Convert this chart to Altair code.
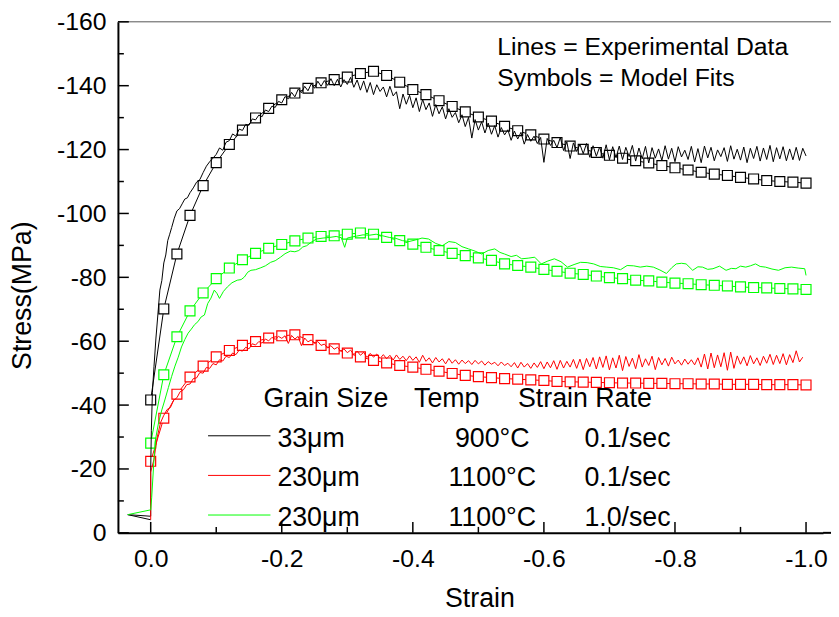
import altair as alt
import pandas as pd

FONT = "Liberation Sans"
WIDTH, HEIGHT = 712, 516

# ---------------- data ----------------
SERIES = ["33um_900C_0.1", "230um_1100C_0.1", "230um_1100C_1.0"]
COLORS = ["#000000", "#ff0000", "#00ff00"]

# Model fits (symbols), strain step 0.02 from 0 to -1.0
MODEL_STEP = -0.02
black_model = [-41.6, -70.1, -87.3, -99.4, -108.7, -115.9, -121.6, -126.1, -129.9, -132.9,
               -135.6, -137.7, -139.2, -140.9, -141.9, -142.7, -143.8, -144.5, -143.2, -141.1,
               -138.8, -137.2, -135.3, -133.5, -131.8, -130.2, -128.9, -127.3, -125.9, -124.6,
               -123.3, -122.2, -121.1, -120.1, -119.1, -118.2, -117.3, -116.5, -115.8, -115.0,
               -114.3, -113.6, -112.9, -112.3, -111.9, -111.3, -110.8, -110.3, -110.0, -109.8,
               -109.5]
red_model = [-22.4, -35.9, -43.4, -48.8, -52.2, -55.1, -57.1, -58.7, -59.9, -61.0,
             -61.7, -62.0, -60.5, -58.7, -57.6, -56.3, -55.1, -54.0, -53.2, -52.4,
             -51.9, -51.2, -50.6, -49.9, -49.3, -48.9, -48.6, -48.3, -48.1, -47.9,
             -47.7, -47.4, -47.3, -47.2, -47.1, -47.0, -46.9, -46.9, -46.8, -46.8,
             -46.7, -46.7, -46.6, -46.6, -46.5, -46.5, -46.5, -46.4, -46.4, -46.4,
             -46.3]
green_model = [-28.1, -49.5, -61.4, -69.5, -75.1, -79.6, -82.9, -85.5, -87.5, -89.1,
               -90.3, -91.4, -92.3, -92.8, -93.0, -93.5, -93.9, -93.5, -92.5, -91.5,
               -90.4, -89.4, -88.4, -87.5, -86.8, -86.1, -85.3, -84.2, -83.7, -83.2,
               -82.5, -81.9, -81.3, -80.9, -80.4, -79.9, -79.6, -79.1, -78.9, -78.5,
               -78.2, -78.0, -77.7, -77.5, -77.3, -77.0, -76.8, -76.7, -76.5, -76.4,
               -76.2]

# Experimental data (lines)
black_head_strain = [0.0, 0.035, 0.0, 0.0, -0.001, -0.0026, -0.005, -0.008, -0.011, -0.014,
                     -0.017, -0.020, -0.023, -0.026, -0.029, -0.032, -0.036, -0.040, -0.044,
                     -0.048, -0.052, -0.056, -0.060, -0.065, -0.070, -0.075, -0.080, -0.085,
                     -0.090, -0.095]
black_head_stress = [-4.1, -5.7, -5.2, -20.0, -32.0, -44.0, -52.0, -61.0, -68.5, -76.0,
                     -79.0, -84.5, -87.0, -91.5, -93.5, -95.6, -98.5, -100.8, -101.5,
                     -103.0, -104.5, -104.9, -106.5, -108.0, -109.8, -110.6, -112.8, -114.8,
                     -116.2, -117.3]
BLACK_GRID_START, BLACK_GRID_STEP = -0.100, -0.005
black_exp = [
    -118.5, -120.5, -119.8, -122.3, -122.8, -124.9, -124.2, -126.4, -126.0, -127.9,
    -127.6, -129.6, -129.3, -130.8, -130.3, -132.4, -131.9, -133.6, -133.2, -135.1,
    -134.6, -136.6, -135.9, -137.9, -136.5, -138.9, -137.8, -139.8, -138.4, -140.6,
    -139.2, -141.4, -139.8, -141.6, -140.1, -142.2, -140.0, -142.0, -139.6, -141.9,
    -140.4, -142.6, -139.5, -141.8, -138.6, -141.5, -137.9, -141.0, -137.2, -140.3,
    -138.2, -139.6, -136.5, -139.8, -136.8, -138.1, -132.8, -137.4, -134.2, -137.0,
    -133.1, -136.2, -131.9, -135.7, -132.5, -134.6, -130.4, -134.1, -131.2, -133.4,
    -129.6, -132.8, -130.1, -131.6, -128.4, -130.9, -127.2, -130.1, -123.6, -129.4,
    -126.1, -128.7, -125.2, -128.3, -124.8, -127.5, -123.9, -126.9, -124.6, -126.2,
    -122.9, -125.8, -123.3, -125.4, -121.7, -124.7, -122.6, -124.2, -121.9, -123.8,
    -116.0, -123.5, -121.3, -122.9, -120.6, -123.8, -119.7, -122.4, -117.2, -122.1,
    -119.4, -121.6, -118.7, -121.9, -117.6, -121.2, -117.9, -120.8, -117.3, -121.5,
    -116.8, -120.9, -117.5, -121.1, -116.9, -120.7, -117.8, -121.3, -116.4, -120.5,
    -117.1, -121.0, -115.8, -120.6, -117.3, -120.2, -116.6, -121.2, -117.0, -120.4,
    -116.2, -120.9, -117.7, -119.8, -116.9, -121.0, -116.1, -120.3, -115.9, -121.1,
    -117.4, -120.7, -116.5, -119.9, -117.8, -120.6, -116.3, -121.2, -117.0, -120.1,
    -116.7, -120.8, -115.9, -120.4, -117.2, -121.0, -116.4, -120.5, -116.9, -121.3,
    -116.2, -120.6, -117.1, -120.9, -116.5, -120.2, -116.8, -120.7, -116.6, -120.4,
    -118.0]

red_head_strain = [0.0, 0.0]
red_head_stress = [-4.1, -19.0]
RED_GRID_START, RED_GRID_STEP = -0.005, -0.005
red_exp = [
    -23.0, -30.0, -34.5, -36.8, -38.6, -39.2, -41.5, -42.3, -44.2, -44.8,
    -46.4, -46.6, -48.3, -48.5, -50.2, -50.0, -51.8, -51.5, -53.0, -52.6,
    -54.2, -53.8, -55.3, -54.9, -56.3, -55.8, -57.2, -56.9, -58.1, -57.6,
    -59.2, -58.8, -59.9, -59.4, -60.7, -60.1, -61.2, -60.6, -61.5, -60.9,
    -61.7, -59.3, -61.8, -60.7, -61.5, -58.6, -61.0, -59.8, -60.4, -59.3,
    -59.9, -58.7, -59.1, -57.9, -58.6, -57.5, -58.1, -56.9, -57.6, -56.4,
    -57.2, -55.8, -56.9, -55.6, -56.5, -54.9, -56.2, -55.0, -56.0, -54.6,
    -55.8, -54.5, -55.6, -54.1, -55.7, -54.3, -55.3, -53.9, -55.4, -54.0,
    -55.1, -53.4, -55.6, -53.7, -54.8, -53.2, -54.9, -53.5, -54.5, -52.9,
    -54.6, -53.1, -54.2, -52.8, -54.1, -53.0, -53.9, -52.7, -54.0, -52.9,
    -53.8, -52.5, -53.6, -52.8, -53.4, -52.3, -53.5, -52.4, -53.1, -52.0,
    -53.3, -51.6, -53.4, -51.9, -53.0, -51.5, -53.2, -51.8, -53.6, -51.4,
    -53.5, -51.7, -53.9, -51.2, -54.0, -51.6, -53.7, -51.9, -54.3, -51.5,
    -54.4, -51.1, -54.6, -52.0, -54.9, -51.3, -55.1, -51.8, -55.4, -51.0,
    -54.8, -51.6, -55.6, -50.8, -55.2, -52.1, -54.7, -51.4, -55.8, -51.9,
    -54.5, -52.4, -55.3, -51.1, -54.9, -52.6, -54.6, -52.2, -55.0, -52.9,
    -54.1, -52.5, -54.4, -52.8, -54.2, -52.6, -54.8, -51.9, -56.0, -51.3,
    -56.3, -51.7, -55.7, -52.0, -56.4, -50.9, -56.6, -51.5, -55.4, -52.8,
    -55.1, -52.3, -55.5, -52.9, -54.8, -52.4, -55.3, -53.1, -55.9, -52.7,
    -55.6, -53.0, -56.1, -52.6, -55.8, -53.3, -57.0, -53.5, -55.0]

green_exp_strain = [
    0.035, 0.0, -0.0015, -0.0066, -0.012, -0.017, -0.022, -0.027, -0.032, -0.037,
    -0.042, -0.047, -0.052, -0.057, -0.062, -0.067, -0.072, -0.077, -0.082, -0.087,
    -0.092, -0.097, -0.101, -0.105, -0.111, -0.117, -0.124, -0.132, -0.138, -0.143,
    -0.148, -0.153, -0.160, -0.168, -0.175, -0.183, -0.190, -0.198, -0.205, -0.213,
    -0.220, -0.226, -0.232, -0.238, -0.245, -0.253, -0.263, -0.273, -0.283, -0.291,
    -0.296, -0.300, -0.304, -0.314, -0.324, -0.334, -0.344, -0.354, -0.364, -0.374,
    -0.384, -0.394, -0.404, -0.414, -0.424, -0.435, -0.445, -0.455, -0.465, -0.475,
    -0.485, -0.495, -0.505, -0.515, -0.525, -0.533, -0.540, -0.550, -0.558, -0.566,
    -0.576, -0.586, -0.596, -0.606, -0.616, -0.626, -0.636, -0.646, -0.656, -0.666,
    -0.676, -0.686, -0.696, -0.706, -0.717, -0.727, -0.737, -0.747, -0.757, -0.767,
    -0.777, -0.787, -0.795, -0.802, -0.810, -0.817, -0.827, -0.835, -0.842, -0.850,
    -0.858, -0.868, -0.878, -0.886, -0.893, -0.900, -0.908, -0.915, -0.923, -0.930,
    -0.938, -0.948, -0.958, -0.968, -0.978, -0.988, -0.998, -1.000]
green_exp_stress = [
    -5.7, -7.2, -11.0, -28.4, -34.5, -38.5, -41.9, -45.5, -49.0, -52.2,
    -55.0, -58.2, -60.5, -62.5, -63.8, -65.2, -66.1, -67.6, -68.2, -71.8,
    -73.5, -76.0, -75.0, -73.4, -75.6, -77.0, -78.3, -79.1, -79.3, -80.1,
    -81.6, -82.2, -82.4, -83.0, -83.6, -84.7, -85.2, -86.3, -87.4, -88.2,
    -88.0, -88.4, -89.5, -89.9, -91.0, -92.0, -92.3, -92.5, -92.8, -92.4,
    -89.4, -92.3, -92.5, -92.9, -93.3, -93.2, -93.5, -93.0, -92.5, -92.2,
    -91.5, -91.2, -91.7, -92.3, -92.0, -90.6, -89.9, -91.2, -90.9, -89.6,
    -88.9, -88.2, -87.3, -88.4, -88.9, -87.8, -87.3, -86.5, -86.9, -85.8,
    -86.0, -86.3, -84.2, -85.1, -85.8, -84.9, -83.2, -84.0, -84.7, -84.6,
    -84.2, -83.4, -83.2, -83.0, -82.4, -83.7, -83.6, -83.2, -83.5, -83.2,
    -82.3, -81.2, -83.0, -84.2, -84.4, -84.2, -82.2, -83.3, -83.2, -82.5,
    -82.7, -83.5, -82.2, -82.8, -82.7, -83.5, -83.2, -83.6, -84.2, -83.4,
    -83.2, -82.6, -82.2, -83.0, -83.2, -82.9, -82.7, -80.6]

X_MAJOR = [0.0, -0.2, -0.4, -0.6, -0.8, -1.0]
X_MINOR = [-0.1, -0.3, -0.5, -0.7, -0.9]
Y_MAJOR = [0, -20, -40, -60, -80, -100, -120, -140, -160]
Y_MINOR = [-10, -30, -50, -70, -90, -110, -130, -150]

LEGEND_GRAIN = ["33\u03bcm", "230\u03bcm", "230\u03bcm"]
LEGEND_TEMP = ["900\u00b0C", "1100\u00b0C", "1100\u00b0C"]
LEGEND_RATE = ["0.1/sec", "0.1/sec", "1.0/sec"]

# ---------------- tables ----------------
exp_rows = []
def add_exp(series, strains, stresses):
    for s, v in zip(strains, stresses):
        exp_rows.append({"series": series, "strain": s, "stress": v, "idx": len(exp_rows)})

add_exp(SERIES[0], black_head_strain, black_head_stress)
add_exp(SERIES[0], [round(BLACK_GRID_START + BLACK_GRID_STEP * i, 4) for i in range(len(black_exp))], black_exp)
add_exp(SERIES[1], red_head_strain, red_head_stress)
add_exp(SERIES[1], [round(RED_GRID_START + RED_GRID_STEP * i, 4) for i in range(len(red_exp))], red_exp)
add_exp(SERIES[2], green_exp_strain, green_exp_stress)
exp_df = pd.DataFrame(exp_rows)

model_rows = []
for name, vals in zip(SERIES, [black_model, red_model, green_model]):
    for i, v in enumerate(vals):
        model_rows.append({"series": name, "strain": round(MODEL_STEP * i, 3), "stress": v, "idx": i})
model_df = pd.DataFrame(model_rows)

# ---------------- scales / axes ----------------
x_scale = alt.Scale(domain=[0.05, -1.026], nice=False, zero=False)
y_scale = alt.Scale(domain=[0, -160], nice=False, zero=False)
color_scale = alt.Scale(domain=SERIES, range=COLORS)
MINUS_FIX = "replace(datum.label, '\u2212', '-')"

x_axis = alt.Axis(values=X_MAJOR, format=".1f", labelExpr=MINUS_FIX, ticks=False, grid=False,
                  labelPadding=14, labelFontSize=25, labelFont=FONT, labelColor="black",
                  labelFlush=False, labelOverlap=False,
                  domainColor="black", domainWidth=2,
                  title="Strain", titleFont=FONT, titleFontSize=27, titleFontWeight="normal",
                  titleColor="black", titleX=365, titleY=74, titleBaseline="alphabetic",
                  titleAlign="center")
y_axis = alt.Axis(values=Y_MAJOR, format="d", labelExpr=MINUS_FIX, ticks=False, grid=False,
                  labelPadding=12, labelFontSize=25, labelFont=FONT, labelColor="black",
                  labelFlush=False, labelOverlap=False,
                  domainColor="black", domainWidth=2,
                  title="Stress(MPa)", titleFont=FONT, titleFontSize=27, titleFontWeight="normal",
                  titleColor="black", titleX=-96, titleY=276, titleAngle=270,
                  titleBaseline="middle", titleAlign="center")

X = lambda f="strain": alt.X(f + ":Q", scale=x_scale, axis=x_axis)
Y = lambda f="stress": alt.Y(f + ":Q", scale=y_scale, axis=y_axis)
C = alt.Color("series:N", scale=color_scale, legend=None)

exp_lines = alt.Chart(exp_df).mark_line(strokeWidth=1).encode(
    x=X(), y=Y(), color=C, detail="series:N", order="idx:Q")

model_lines = alt.Chart(model_df).mark_line(strokeWidth=1).encode(
    x=X(), y=Y(), color=C, detail="series:N", order="idx:Q")

model_pts = alt.Chart(model_df).mark_point(
    shape="square", size=100, filled=False, fill="white", fillOpacity=1,
    strokeWidth=1.2, opacity=1).encode(x=X(), y=Y(), color=C)

def rules_v(vals, length):
    return alt.Chart(pd.DataFrame({"v": vals})).mark_rule(color="black", strokeWidth=1.5).encode(
        x=X("v"), y=alt.value(HEIGHT), y2=alt.value(HEIGHT - length))

def rules_h(vals, length):
    return alt.Chart(pd.DataFrame({"v": vals})).mark_rule(color="black", strokeWidth=1.5).encode(
        y=Y("v"), x=alt.value(0), x2=alt.value(length))

one = pd.DataFrame({"a": [0]})
top_frame = alt.Chart(one).mark_rule(color="#555555", strokeWidth=1).encode(
    x=alt.value(0), x2=alt.value(WIDTH + 8), y=alt.value(0))
bottom_ext = alt.Chart(one).mark_rule(color="black", strokeWidth=2).encode(
    x=alt.value(WIDTH), x2=alt.value(WIDTH + 8), y=alt.value(HEIGHT))

def text(t, x, y, size, align="left"):
    return alt.Chart(pd.DataFrame({"t": [t]})).mark_text(
        font=FONT, fontSize=size, align=align, baseline="alphabetic", color="black").encode(
        text="t:N", x=alt.value(x), y=alt.value(y))

texts = [
    text("Lines = Experimental Data", 383, 34, 25),
    text("Symbols = Model Fits", 383, 65, 25),
    text("Grain Size", 147, 389, 27),
    text("Temp", 299, 389, 27),
    text("Strain Rate", 404, 389, 27),
]
legend_line_y = [418, 458, 498]
legend_layers = []
for i in range(3):
    legend_layers.append(
        alt.Chart(one).mark_rule(color=COLORS[i], strokeWidth=1).encode(
            x=alt.value(91), x2=alt.value(154), y=alt.value(legend_line_y[i])))
    base_y = legend_line_y[i] + 11
    texts.append(text(LEGEND_GRAIN[i], 161, base_y, 27))
    texts.append(text(LEGEND_TEMP[i], 378, base_y, 27, align="center"))
    texts.append(text(LEGEND_RATE[i], 471, base_y, 27))

chart = alt.layer(
    top_frame, model_lines, model_pts, exp_lines,
    rules_v(X_MAJOR, 11), rules_v(X_MINOR, 6), rules_h(Y_MAJOR, 11), rules_h(Y_MINOR, 6),
    bottom_ext, *legend_layers, *texts
).properties(
    width=WIDTH, height=HEIGHT,
    autosize=alt.AutoSizeParams(type="none"),
    padding={"left": 111, "top": 11, "right": 8, "bottom": 80},
).configure_view(stroke=None)

chart.save("out.html", embed_options={"renderer": "svg", "actions": False})
